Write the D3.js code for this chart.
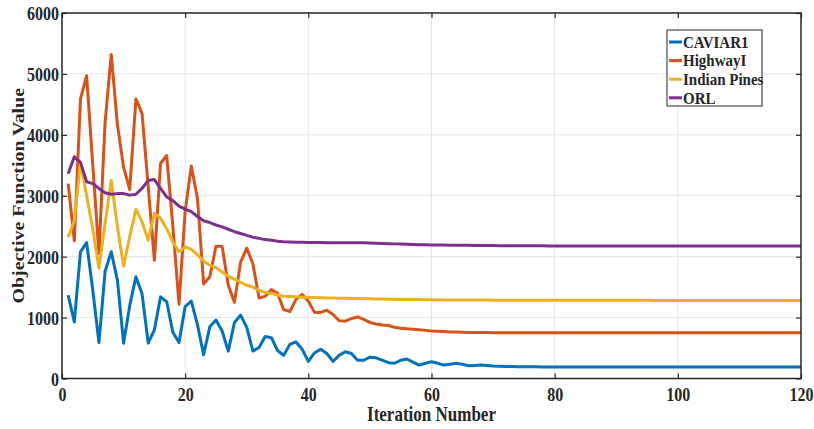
<!DOCTYPE html>
<meta charset="utf-8">
<style>
body { margin: 0; background: #fff; }
svg text { font-family: 'Liberation Serif', 'Times New Roman', serif; font-weight: bold; fill: #262626; }
.grid line { stroke: #e6e6e6; stroke-width: 1px; }
.line { fill: none; stroke-width: 3px; stroke-linejoin: round; }
</style>
<body>
<script src="https://cdnjs.cloudflare.com/ajax/libs/d3/7.8.5/d3.min.js"></script>
<script>
var seriesNames = ["CAVIAR1", "HighwayI", "Indian Pines", "ORL"];
var colors = ["#0072BD", "#D95319", "#EDB120", "#7E2F8E"];
var xTicks = [0, 20, 40, 60, 80, 100, 120];
var yTicks = [0, 1000, 2000, 3000, 4000, 5000, 6000];

var caviar = [1370,930,2080,2230,1450,590,1760,2080,1610,580,
  1200,1670,1390,580,800,1340,1260,760,590,1180,
  1270,880,390,850,960,780,450,920,1040,840,
  450,510,690,670,460,380,560,600,480,280,
  420,480,410,280,380,440,410,300,300,350,
  340,300,260,250,300,320,270,220,250,275,
  250,220,235,250,235,210,215,220,215,205,
  200,196,195,193,192,191,191,190,190,190,
  189,189,189,189,189,189,189,189,189,189,
  189,189,189,189,189,189,189,189,189,189,
  189,189,189,189,189,189,189,189,189,189,
  189,189,189,189,189,189,189,189,189,189];

var highway = [3200,2260,4590,4970,3500,2050,4210,5320,4160,3470,
  3100,4590,4350,3150,1940,3530,3660,2500,1220,2750,
  3490,2950,1550,1670,2170,2170,1530,1250,1910,2140,
  1880,1320,1350,1460,1400,1130,1100,1300,1380,1270,
  1085,1085,1120,1050,950,940,985,1010,970,920,
  895,880,870,840,825,815,810,800,790,780,
  775,770,765,762,760,757,756,755,754,753,
  752,752,751,751,751,751,751,751,751,751,
  751,751,751,751,751,751,751,751,751,751,
  751,751,751,751,751,751,751,751,751,751,
  751,751,751,751,751,751,751,751,751,751,
  751,751,751,751,751,751,751,751,751,751];

var indianPines = [2320,2590,3550,3000,2450,1810,2550,3250,2490,1845,
  2330,2775,2570,2270,2710,2630,2460,2240,2080,2160,
  2120,2030,1930,1860,1820,1750,1680,1630,1580,1530,
  1500,1450,1410,1400,1370,1350,1345,1340,1335,1330,
  1328,1325,1322,1320,1318,1316,1314,1312,1310,1308,
  1306,1304,1302,1300,1298,1297,1296,1295,1294,1292,
  1291,1290,1290,1289,1289,1288,1288,1287,1287,1286,
  1286,1286,1285,1285,1285,1285,1285,1284,1284,1284,
  1284,1284,1284,1283,1283,1283,1283,1283,1283,1283,
  1283,1283,1283,1283,1283,1282,1282,1282,1282,1282,
  1282,1282,1282,1282,1282,1282,1282,1282,1282,1282,
  1282,1282,1282,1282,1282,1282,1282,1282,1282,1282];

var orl = [3360,3640,3550,3230,3200,3120,3050,3025,3035,3035,
  3010,3025,3120,3250,3265,3120,2980,2920,2830,2780,
  2740,2660,2590,2560,2520,2490,2450,2410,2380,2350,
  2320,2300,2280,2270,2255,2245,2240,2237,2235,2233,
  2232,2231,2230,2230,2229,2228,2228,2227,2227,2226,
  2222,2218,2214,2210,2206,2203,2200,2197,2195,2193,
  2191,2190,2189,2188,2187,2186,2185,2184,2183,2182,
  2181,2180,2180,2179,2179,2178,2178,2178,2177,2177,
  2177,2177,2177,2177,2177,2177,2177,2177,2177,2177,
  2177,2177,2177,2177,2177,2177,2177,2177,2177,2177,
  2177,2177,2177,2177,2177,2177,2177,2177,2177,2177,
  2177,2177,2177,2177,2177,2177,2177,2177,2177,2177];

var allSeries = [caviar, highway, indianPines, orl];

var W = 814, H = 429;
var margin = {top: 13, right: 13, bottom: 50.5, left: 62},
    width = W - margin.left - margin.right,
    height = H - margin.top - margin.bottom;

// the reference figure is a bit taller than wide in its text
var sy = 1.17;

var svg = d3.select("body").append("svg")
    .attr("width", W)
    .attr("height", H);

var g = svg.append("g").attr("transform", "translate(" + margin.left + "," + margin.top + ")");

var x = d3.scaleLinear().domain([0, 120]).range([0, width]),
    y = d3.scaleLinear().domain([0, 6000]).range([height, 0]);

// grid
var grid = g.append("g").attr("class", "grid");
grid.selectAll(".gx").data(xTicks.slice(1, -1)).enter().append("line")
    .attr("x1", function(d) { return x(d); }).attr("x2", function(d) { return x(d); })
    .attr("y1", 0).attr("y2", height);
grid.selectAll(".gy").data(yTicks.slice(1, -1)).enter().append("line")
    .attr("y1", function(d) { return y(d); }).attr("y2", function(d) { return y(d); })
    .attr("x1", 0).attr("x2", width);

// lines
var line = d3.line()
    .x(function(d, i) { return x(i + 1); })
    .y(function(d) { return y(d); });

g.selectAll(".line").data(allSeries).enter().append("path")
    .attr("class", "line")
    .attr("d", line)
    .style("stroke", function(d, i) { return colors[i]; });

// axes (MATLAB style: ticks inside, box on)
function styleAxis(sel) {
  sel.select(".domain").remove();
  sel.selectAll(".tick line").attr("stroke", "#262626").attr("stroke-width", 1.2);
  sel.selectAll(".tick text").attr("fill", "#262626").style("font-size", "16px");
}

var fmt = d3.format("d");

g.append("g")
    .attr("transform", "translate(0," + height + ")")
    .call(d3.axisBottom(x).tickValues(xTicks).tickSizeInner(-5).tickSizeOuter(0).tickFormat(fmt))
    .call(styleAxis)
  .selectAll(".tick text")
    .attr("y", 0).attr("dy", "0.35em")
    .attr("transform", "translate(0,16) scale(1," + sy + ")");
g.append("g")
    .call(d3.axisTop(x).tickValues(xTicks).tickSizeInner(-5).tickSizeOuter(0).tickFormat(""))
    .call(styleAxis);
g.append("g")
    .call(d3.axisLeft(y).tickValues(yTicks).tickSizeInner(-5).tickSizeOuter(0).tickFormat(fmt))
    .call(styleAxis)
  .selectAll(".tick text")
    .attr("x", 0).attr("dy", "0.35em")
    .attr("transform", "translate(-3,0) scale(1," + sy + ")");
g.append("g")
    .attr("transform", "translate(" + width + ",0)")
    .call(d3.axisRight(y).tickValues(yTicks).tickSizeInner(-5).tickSizeOuter(0).tickFormat(""))
    .call(styleAxis);

g.append("rect")
    .attr("width", width).attr("height", height)
    .attr("fill", "none").attr("stroke", "#262626").attr("stroke-width", 1.5);

// axis labels
g.append("text")
    .attr("transform", "translate(" + (width / 2) + "," + (height + 42) + ") scale(1," + sy + ")")
    .attr("text-anchor", "middle")
    .style("font-size", "17px")
    .text("Iteration Number");

g.append("text")
    .attr("transform", "translate(-38," + (height / 2) + ") rotate(-90) scale(" + sy + ",1)")
    .attr("text-anchor", "middle")
    .style("font-size", "17px")
    .text("Objective Function Value");

// legend
var lg = svg.append("g").attr("transform", "translate(667,30)");
lg.append("rect")
    .attr("width", 95).attr("height", 76)
    .attr("fill", "#fff").attr("stroke", "#262626").attr("stroke-width", 1);
var item = lg.selectAll(".item").data(seriesNames).enter().append("g")
    .attr("transform", function(d, i) { return "translate(0," + (12 + i * 18.6) + ")"; });
item.append("line")
    .attr("x1", 2).attr("x2", 15)
    .attr("stroke", function(d, i) { return colors[i]; })
    .attr("stroke-width", 3);
item.append("text")
    .attr("transform", "translate(16,0) scale(1," + sy + ")")
    .attr("dy", "0.33em")
    .style("font-size", "15px")
    .text(function(d) { return d; });
</script>
